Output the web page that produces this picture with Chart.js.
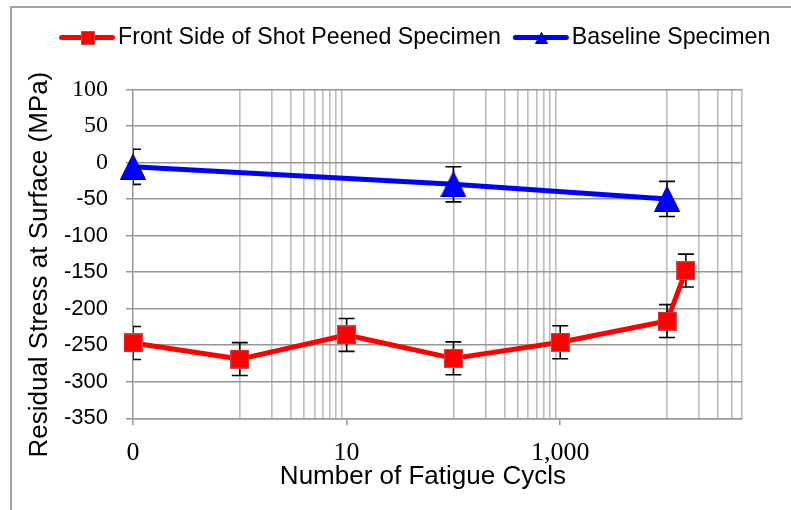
<!DOCTYPE html>
<html><head><meta charset="utf-8">
<script src="https://cdn.jsdelivr.net/npm/chart.js@4.4.1/dist/chart.umd.min.js"></script>
<style>
html,body{margin:0;padding:0;background:#fff;overflow:hidden;}
#wrap{position:relative;width:791px;height:510px;overflow:hidden;background:#fff;}
#frame{position:absolute;left:10px;top:6px;width:900px;height:700px;border:2px solid #a3a3a3;pointer-events:none;}
canvas{position:absolute;left:0;top:0;}
</style></head><body>
<div id="wrap"><canvas id="c" width="791" height="510"></canvas><div id="frame"></div></div>
<script>
// ---- data ----
const seriesNames = ['Front Side of Shot Peened Specimen', 'Baseline Specimen'];
// 0 cycles is plotted at 0.1 on the log axis (Excel shows it as "0")
const peenedCycles = [0.1, 1, 10, 100, 1000, 10000, 15000];
const peenedStress = [-247, -269, -236, -268, -246, -217, -148];
const peenedError  = [22.5, 22.5, 22.5, 22.5, 22.5, 22.5, 22.5];
const baselineCycles = [0.1, 100, 10000];
const baselineStress = [-6, -30, -50];
const baselineError  = [24, 24, 24];
const xTickValues = [0.1, 10, 1000];
const xTickLabels = ['0', '10', '1,000'];
const xMinorGrid = [1, 2, 3, 4, 5, 6, 7, 8, 9, 100, 200, 300, 400, 500, 600, 700, 800, 900, 10000, 20000, 30000, 40000, 50000];
const yTickValues = [-350, -300, -250, -200, -150, -100, -50, 0, 50, 100];
const xTitle = 'Number of Fatigue Cycls';
const yTitle = 'Residual Stress at Surface (MPa)';

// ---- styles ----
const RED = '#ff0000', BLUE = '#0000ff';
function squareMarker(size) {
  const c = document.createElement('canvas'); c.width = size; c.height = size;
  const g = c.getContext('2d');
  g.fillStyle = RED; g.fillRect(0, 0, size, size);
  g.strokeStyle = '#c94a4a'; g.lineWidth = 1; g.strokeRect(0.5, 0.5, size - 1, size - 1);
  return c;
}
function triangleMarker(w, h) {
  const c = document.createElement('canvas'); c.width = w; c.height = h;
  const g = c.getContext('2d');
  g.beginPath(); g.moveTo(w / 2, 0.5); g.lineTo(w - 0.5, h - 0.5); g.lineTo(0.5, h - 0.5); g.closePath();
  g.fillStyle = BLUE; g.fill(); g.strokeStyle = '#00007a'; g.lineWidth = 1; g.stroke();
  return c;
}
const redPt = squareMarker(19), bluePt = triangleMarker(26, 26);
const legendMarkers = [squareMarker(14), triangleMarker(13, 12)];
const legendColors = [RED, BLUE];

const errorSets = [
  {xs: peenedCycles, ys: peenedStress, err: peenedError},
  {xs: baselineCycles, ys: baselineStress, err: baselineError}
];

const helper = {
  id: 'helper',
  afterLayout(chart) {
    const lg = chart.legend;
    if (lg) { lg.left = 47; lg.right = 791; lg.width = 744; }
  },
  beforeDatasetsDraw(chart) {
    const {ctx, chartArea: a} = chart;
    const xs = chart.scales.x, ys = chart.scales.y;
    ctx.save();
    ctx.beginPath(); ctx.rect(a.left, a.top, a.right - a.left, a.bottom - a.top); ctx.clip();
    ctx.strokeStyle = '#000'; ctx.lineWidth = 1.6;
    errorSets.forEach(s => s.xs.forEach((xv, i) => {
      const px = xs.getPixelForValue(xv);
      const yt = ys.getPixelForValue(s.ys[i] + s.err[i]);
      const yb = ys.getPixelForValue(s.ys[i] - s.err[i]);
      ctx.beginPath();
      ctx.moveTo(px, yt); ctx.lineTo(px, yb);
      ctx.moveTo(px - 8, yt); ctx.lineTo(px + 8, yt);
      ctx.moveTo(px - 8, yb); ctx.lineTo(px + 8, yb);
      ctx.stroke();
    }));
    ctx.restore();
  },
  afterDraw(chart) {
    const lg = chart.legend, ctx = chart.ctx;
    if (!lg || !lg.legendHitBoxes) return;
    lg.legendHitBoxes.forEach((hb, i) => {
      const y = hb.top + hb.height / 2, x0 = hb.left;
      ctx.save();
      ctx.strokeStyle = legendColors[i]; ctx.lineWidth = 5; ctx.lineCap = 'round';
      ctx.beginPath(); ctx.moveTo(x0 + 2.5, y); ctx.lineTo(x0 + 53.5, y); ctx.stroke();
      const m = legendMarkers[i];
      ctx.drawImage(m, Math.round(x0 + 28.5 - m.width / 2), Math.round(y - m.height / 2));
      ctx.restore();
    });
  }
};

const isLabeled = v => xTickValues.includes(v);

new Chart(document.getElementById('c'), {
  type: 'line',
  data: {
    datasets: [
      {
        label: seriesNames[0], xAxisID: 'x', yAxisID: 'y',
        data: peenedCycles.map((x, i) => ({x, y: peenedStress[i]})),
        borderColor: RED, backgroundColor: RED, borderWidth: 5, tension: 0, fill: false,
        borderJoinStyle: 'round', pointStyle: redPt, pointRadius: 10, pointHoverRadius: 10, clip: false
      },
      {
        label: seriesNames[1], xAxisID: 'x', yAxisID: 'y',
        data: baselineCycles.map((x, i) => ({x, y: baselineStress[i]})),
        borderColor: BLUE, backgroundColor: BLUE, borderWidth: 5, tension: 0, fill: false,
        borderJoinStyle: 'round', pointStyle: bluePt, pointRadius: 10, pointHoverRadius: 10, clip: false
      }
    ]
  },
  options: {
    responsive: false, animation: false, devicePixelRatio: 1,
    layout: {padding: {top: 14, left: 0, right: 49.3, bottom: 0}},
    plugins: {
      tooltip: {enabled: false},
      legend: {
        display: true, position: 'top', align: 'start',
        labels: {
          boxWidth: 47.4, boxHeight: 23.2, padding: 12, color: '#000',
          font: {family: 'Liberation Sans', size: 23.2},
          generateLabels: () => seriesNames.map((t, i) => ({
            text: t, fillStyle: 'rgba(0,0,0,0)', strokeStyle: 'rgba(0,0,0,0)', lineWidth: 0,
            hidden: false, datasetIndex: i, fontColor: '#000'
          }))
        }
      }
    },
    scales: {
      x: {
        type: 'logarithmic', position: 'bottom', min: 0.1, max: 50000,
        afterBuildTicks: s => { s.ticks = xTickValues.concat(xMinorGrid).sort((a, b) => a - b).map(v => ({value: v})); },
        afterFit: s => { s.height = 91.7; },
        ticks: {
          autoSkip: false, maxRotation: 0, minRotation: 0, padding: 12, color: '#000',
          font: {family: 'Liberation Serif', size: 26},
          callback: v => { const i = xTickValues.indexOf(v); return i >= 0 ? xTickLabels[i] : ''; }
        },
        grid: {
          color: c => (c.tick && isLabeled(c.tick.value)) ? 'rgba(0,0,0,0)' : '#bdbdbd',
          lineWidth: 1.6, tickLength: 7, tickWidth: 1.5,
          tickColor: c => (c.tick && isLabeled(c.tick.value)) ? '#999' : 'rgba(0,0,0,0)'
        },
        border: {color: '#999', width: 1.5},
        title: {display: true, text: xTitle + '    ', color: '#000',
          font: {family: 'Liberation Sans', size: 26}, padding: {top: 0, bottom: 18}}
      },
      x2: {
        type: 'linear', position: 'top', display: true,
        grid: {display: false, drawTicks: false}, border: {display: false}, ticks: {display: false},
        afterFit: s => { s.height = 30.1; }
      },
      y: {
        type: 'linear', min: -350, max: 100,
        afterBuildTicks: s => { s.ticks = yTickValues.map(v => ({value: v})); },
        afterFit: s => { s.width = 133; },
        ticks: {
          padding: 18, color: '#000',
          font: c => (c.tick && c.tick.value >= 0) ? {family: 'Liberation Serif', size: 24} : {family: 'Liberation Sans', size: 22},
          callback: v => String(v)
        },
        grid: {color: '#969696', lineWidth: 1.5, tickLength: 7, tickWidth: 1.5, tickColor: '#969696'},
        border: {color: '#969696', width: 1.5},
        title: {display: true, text: yTitle + '   ', color: '#000',
          font: {family: 'Liberation Sans', size: 26}, padding: {top: 24.4, bottom: 0}}
      }
    }
  },
  plugins: [helper]
});
</script>
</body></html>
